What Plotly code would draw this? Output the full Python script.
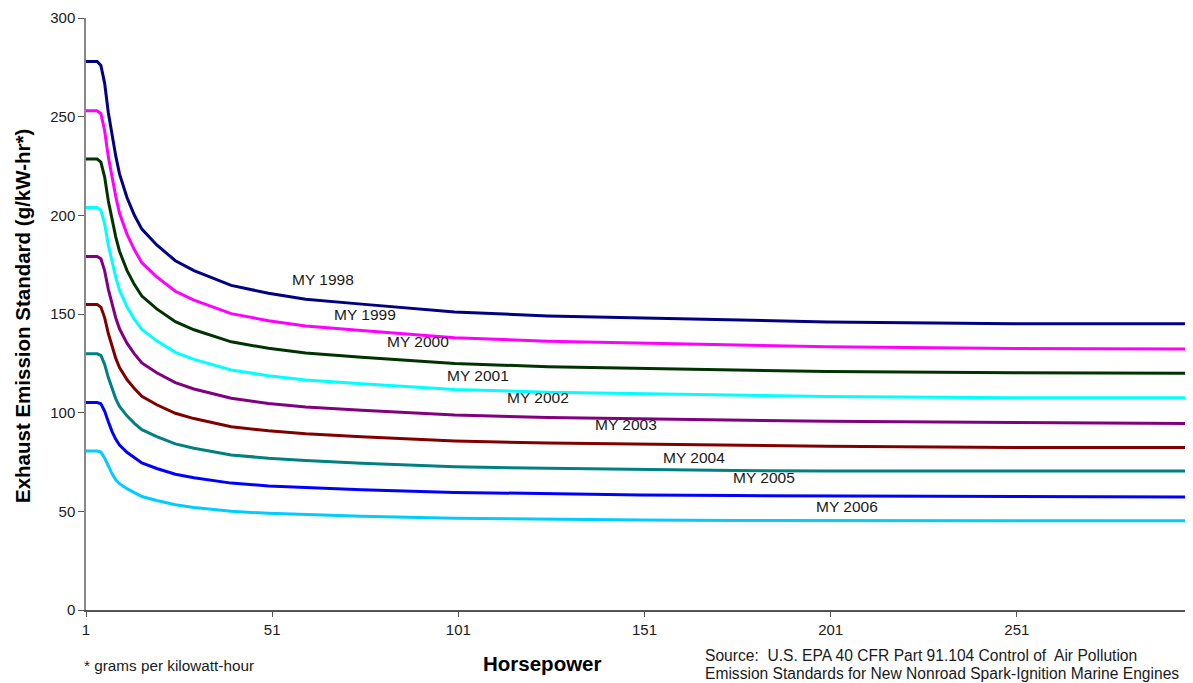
import plotly.graph_objects as go

# Horsepower sample points (x categories)
HP = [1, 4, 5, 6, 7, 8, 9, 10, 12, 14, 16, 20, 25, 30, 40, 50, 60, 75, 100, 125, 150, 175, 200, 250, 299]

# Exhaust emission standard (g/kW-hr)
MY1998 = [278, 278, 276, 267, 252, 240, 230, 221, 209, 200, 193, 185, 177, 172, 164.5, 160.5, 157.5, 155, 151, 149, 148, 147, 146, 145, 145]
MY1999 = [253, 253, 251.5, 243, 229.5, 218.5, 209.5, 201, 190.5, 182.5, 176, 168.8, 161.5, 157, 150.2, 146.6, 143.9, 141.6, 138, 136.2, 135.2, 134.3, 133.4, 132.5, 132.3]
MY2000 = [228.5, 228.5, 227, 219.5, 207.3, 197.3, 189, 181.8, 172.1, 164.9, 159.1, 152.6, 146.1, 142, 135.9, 132.6, 130.2, 128.1, 124.9, 123.3, 122.4, 121.6, 120.8, 120.2, 120]
MY2001 = [204, 204, 202.5, 195.8, 184.9, 175.9, 168.5, 162.1, 153.7, 147.3, 142.2, 136.4, 130.6, 127, 121.6, 118.7, 116.6, 114.7, 111.8, 110.4, 109.6, 108.9, 108.2, 107.6, 107.5]
MY2002 = [179.2, 179.2, 178, 172, 162.5, 154.5, 148, 142.5, 135.2, 129.8, 125.2, 120.2, 115.2, 112, 107.3, 104.7, 102.9, 101.2, 98.8, 97.5, 96.8, 96.2, 95.6, 95, 94.5]
MY2003 = [154.8, 154.8, 153.5, 148.2, 140.1, 133.1, 127.5, 122.9, 116.8, 112.2, 108.3, 104, 99.7, 97, 92.9, 90.8, 89.3, 87.8, 85.7, 84.6, 84, 83.4, 83, 82.4, 82.3]
MY2004 = [129.8, 129.8, 129, 124.5, 117.8, 111.8, 107, 103.2, 98.4, 94.6, 91.4, 87.9, 84.2, 82, 78.6, 76.9, 75.7, 74.4, 72.6, 71.8, 71.1, 70.7, 70.4, 70.4, 70.4]
MY2005 = [105.1, 105.1, 104.5, 100.8, 95.4, 90.4, 86.5, 83.6, 79.9, 77.1, 74.5, 71.7, 68.8, 67, 64.3, 62.9, 62, 61, 59.6, 58.9, 58.3, 58, 57.8, 57.4, 57.3]
MY2006 = [80.6, 80.6, 80, 77, 73, 69, 66, 64, 61.5, 59.5, 57.5, 55.5, 53.3, 52, 50, 49, 48.4, 47.5, 46.5, 46, 45.6, 45.4, 45.3, 45.2, 45.2]

SERIES = [MY1998, MY1999, MY2000, MY2001, MY2002, MY2003, MY2004, MY2005, MY2006]
LABELS = ["MY 1998", "MY 1999", "MY 2000", "MY 2001", "MY 2002", "MY 2003", "MY 2004", "MY 2005", "MY 2006"]
COLORS = ["#000080", "#FF00FF", "#003300", "#00FFFF", "#800080", "#800000", "#008080", "#0000FF", "#00CCFF"]
LABEL_X = [64.7, 76, 90.1, 106.2, 122.5, 145.9, 164.2, 183.2, 205.4]
LABEL_Y = [167.3, 150, 136, 118.6, 107.6, 93.8, 77.4, 67.2, 52.4]

FONT = "Liberation Sans, Arial, sans-serif"

# page body has an 8px margin; lay the figure out in window pixels minus that offset
OFF = 8
W, H = 1193 - OFF, 683 - OFF
L, R, T, B = 86 - OFF, 0, 18 - OFF, 683 - 610
pw, ph = W - L - R, H - T - B


def px(xp):
    return (xp - OFF - L) / pw


def py(yp):
    return 1 - (yp - OFF - T) / ph


fig = go.Figure()
for ys, name, col in zip(SERIES, LABELS, COLORS):
    fig.add_trace(go.Scatter(x=HP, y=ys, mode="lines", name=name,
                             line=dict(color=col, width=3), showlegend=False,
                             hoverinfo="x+y+name"))

for lab, lx, ly in zip(LABELS, LABEL_X, LABEL_Y):
    fig.add_annotation(x=lx, y=ly, xref="x", yref="y", text=lab, showarrow=False,
                       font=dict(family=FONT, size=15.5, color="#1a1a1a"))

paper_texts = [
    ("* grams per kilowatt-hour", 82, 665, "left", 15.3, False),
    ("Source:  U.S. EPA 40 CFR Part 91.104 Control of  Air Pollution", 703, 655, "left", 15.6, False),
    ("Emission Standards for New Nonroad Spark-Ignition Marine Engines", 703, 673.5, "left", 15.6, False),
    ("Horsepower", 542, 663, "center", 20.5, True),
]
for txt, xp, yp, anc, sz, bold in paper_texts:
    fig.add_annotation(x=px(xp), y=py(yp), xref="paper", yref="paper",
                       text=f"<b>{txt}</b>" if bold else txt,
                       showarrow=False, xanchor=anc, yanchor="middle",
                       font=dict(family=FONT, size=sz, color="black" if bold else "#1a1a1a"))

fig.add_annotation(x=px(22), y=py(316), xref="paper", yref="paper",
                   text="<b>Exhaust Emission Standard (g/kW-hr*)</b>", textangle=-90,
                   showarrow=False, xanchor="center", yanchor="middle",
                   font=dict(family=FONT, size=20.5, color="black"))

fig.update_layout(
    width=W, height=H,
    margin=dict(l=L, r=R, t=T, b=B, autoexpand=False),
    paper_bgcolor="white", plot_bgcolor="white",
    font=dict(family=FONT, color="#1a1a1a"),
    xaxis=dict(range=[1, 298.3], tick0=1, dtick=50, showgrid=False, zeroline=False,
               showline=True, linecolor="#555555", linewidth=1.5, automargin=False,
               ticks="outside", ticklen=5, tickcolor="#555555",
               tickfont=dict(family=FONT, size=15, color="#1a1a1a")),
    yaxis=dict(range=[0, 300], tick0=0, dtick=50, showgrid=False, zeroline=False,
               showline=True, linecolor="#888888", linewidth=1.5, automargin=False,
               ticks="outside", ticklen=6, tickcolor="#555555",
               tickfont=dict(family=FONT, size=15, color="#1a1a1a")),
)

fig.write_html("out.html")
